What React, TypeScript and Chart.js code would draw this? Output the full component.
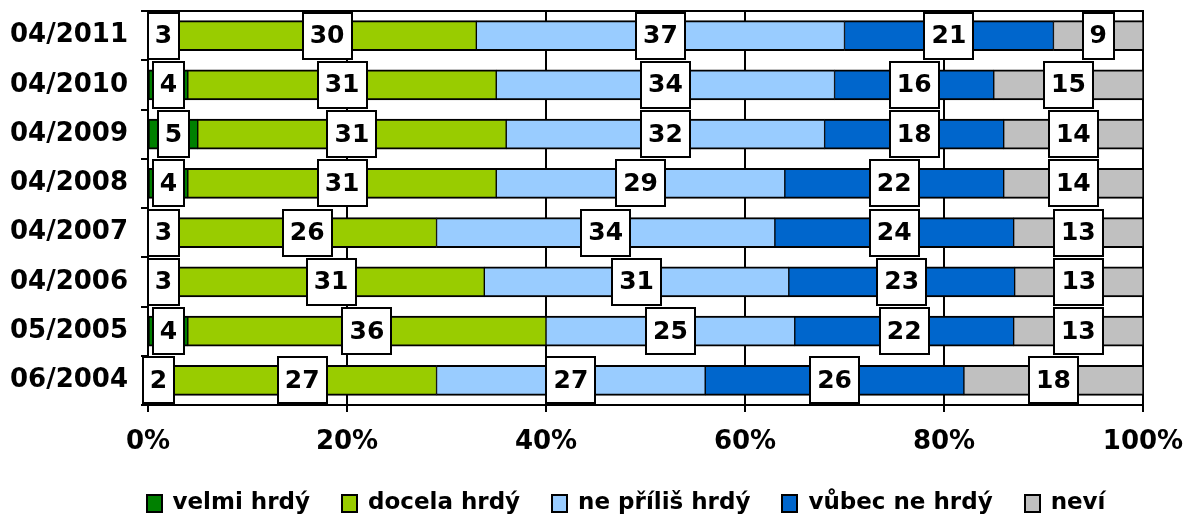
import React, { useEffect, useRef } from 'react';
import { Chart, registerables } from 'chart.js';

Chart.register(...registerables);

const categories = ['04/2011', '04/2010', '04/2009', '04/2008', '04/2007', '04/2006', '05/2005', '06/2004'];
const seriesNames = ['velmi hrdý', 'docela hrdý', 'ne příliš hrdý', 'vůbec ne hrdý', 'neví'];
const velmiHrdy = [3, 4, 5, 4, 3, 3, 4, 2];
const docelaHrdy = [30, 31, 31, 31, 26, 30.8, 36, 27];
const nePrilisHrdy = [37, 34, 32, 29, 34, 30.6, 25, 27];
const vubecNeHrdy = [21, 16, 18, 22, 24, 22.7, 22, 26];
const nevi = [9, 15, 14, 14, 13, 12.9, 13, 18];
const xTicks = [0, 20, 40, 60, 80, 100];

const seriesColors = ['#008000', '#99CC00', '#99CCFF', '#0066CC', '#C0C0C0'];

const FONT = "'DejaVu Sans', Verdana, sans-serif";

const topBorderPlugin = {
  id: 'topBorder',
  beforeDatasetsDraw(chart: any) {
    const { ctx, chartArea } = chart;
    ctx.save();
    ctx.strokeStyle = '#000';
    ctx.lineWidth = 2;
    ctx.beginPath();
    ctx.moveTo(chartArea.left, chartArea.top);
    ctx.lineTo(chartArea.right + 1, chartArea.top);
    ctx.stroke();
    ctx.restore();
  },
};

const labelBoxPlugin = {
  id: 'labelBoxes',
  afterDatasetsDraw(chart: any) {
    const ctx = chart.ctx;
    ctx.save();
    ctx.font = `bold 25px ${FONT}`;
    ctx.textAlign = 'center';
    ctx.textBaseline = 'middle';
    chart.data.datasets.forEach((ds: any, di: number) => {
      const meta = chart.getDatasetMeta(di);
      meta.data.forEach((el: any, i: number) => {
        const text = String(Math.round(ds.data[i]));
        const cx = (el.x + el.base) / 2;
        const cy = el.y;
        const w = Math.round(ctx.measureText(text).width + 14);
        const h = 46;
        const x0 = Math.round(cx - w / 2);
        const y0 = Math.round(cy - h / 2);
        ctx.fillStyle = '#fff';
        ctx.fillRect(x0, y0, w, h);
        ctx.lineWidth = 2;
        ctx.strokeStyle = '#000';
        ctx.strokeRect(x0, y0, w, h);
        ctx.fillStyle = '#000';
        ctx.fillText(text, cx, cy + 1);
      });
    });
    ctx.restore();
  },
};

const legendPlugin = {
  id: 'customLegend',
  afterDraw(chart: any) {
    const ctx = chart.ctx;
    ctx.save();
    ctx.font = `bold 23px ${FONT}`;
    ctx.textBaseline = 'middle';
    ctx.textAlign = 'left';
    const boxW = 15;
    const boxH = 17;
    const gapText = 11;
    const gapItem = 32;
    const items = chart.data.datasets.map((ds: any) => ({
      text: ds.label as string,
      color: ds.backgroundColor as string,
      w: ctx.measureText(ds.label).width,
    }));
    const total =
      items.reduce((s: number, it: any) => s + boxW + gapText + it.w, 0) + gapItem * (items.length - 1);
    let x = chart.width / 2 + 32 - total / 2;
    const cy = 503;
    items.forEach((it: any) => {
      const bx = Math.round(x);
      const by = Math.round(cy - boxH / 2);
      ctx.fillStyle = it.color;
      ctx.fillRect(bx, by, boxW, boxH);
      ctx.lineWidth = 2;
      ctx.strokeStyle = '#000';
      ctx.strokeRect(bx, by, boxW, boxH);
      ctx.fillStyle = '#000';
      ctx.fillText(it.text, x + boxW + gapText, cy);
      x += boxW + gapText + it.w + gapItem;
    });
    ctx.restore();
  },
};

export default function App() {
  const canvasRef = useRef<HTMLCanvasElement | null>(null);

  useEffect(() => {
    document.body.style.margin = '0';
    const canvas = canvasRef.current;
    if (!canvas) return;
    const seriesData = [velmiHrdy, docelaHrdy, nePrilisHrdy, vubecNeHrdy, nevi];
    const chart = new Chart(canvas, {
      type: 'bar',
      data: {
        labels: categories,
        datasets: seriesNames.map((name, i) => ({
          label: name,
          data: seriesData[i],
          backgroundColor: seriesColors[i],
          borderColor: '#000',
          borderWidth: { top: 2, bottom: 2, left: 1, right: 1 },
          borderSkipped: false,
          barThickness: 30,
        })),
      },
      options: {
        indexAxis: 'y',
        animation: false,
        responsive: false,
        devicePixelRatio: 1,
        layout: { padding: { left: 0, right: 45, top: 11, bottom: 65 } },
        scales: {
          x: {
            stacked: true,
            min: 0,
            max: 100,
            afterBuildTicks: (scale: any) => {
              scale.ticks = xTicks.map((v) => ({ value: v }));
            },
            ticks: {
              callback: (v: any) => `${v}%`,
              font: { family: FONT, size: 26, weight: 'bold', lineHeight: 1 },
              color: '#000',
              padding: 17,
              maxRotation: 0,
              autoSkip: false,
            },
            grid: { color: '#000', lineWidth: 2, tickLength: 7 },
            border: { color: '#000', width: 2 },
            afterFit: (scale: any) => {
              scale.height = 45;
              scale.paddingLeft = 0;
              scale.paddingRight = 0;
            },
          },
          y: {
            stacked: true,
            ticks: {
              font: { family: FONT, size: 26, weight: 'bold' },
              color: '#000',
              padding: 13,
            },
            grid: { drawOnChartArea: false, color: '#000', lineWidth: 2, tickLength: 7, offset: true },
            border: { color: '#000', width: 2 },
            afterFit: (scale: any) => {
              scale.width = 148;
              scale.paddingTop = 0;
              scale.paddingBottom = 0;
            },
          },
        },
        plugins: {
          legend: { display: false },
          tooltip: { enabled: false },
        },
      } as any,
      plugins: [topBorderPlugin, labelBoxPlugin, legendPlugin],
    });
    return () => chart.destroy();
  }, []);

  return (
    <div style={{ position: 'absolute', left: 0, top: 0, width: 1188, height: 515, background: '#fff' }}>
      <canvas ref={canvasRef} width={1188} height={515} />
    </div>
  );
}
